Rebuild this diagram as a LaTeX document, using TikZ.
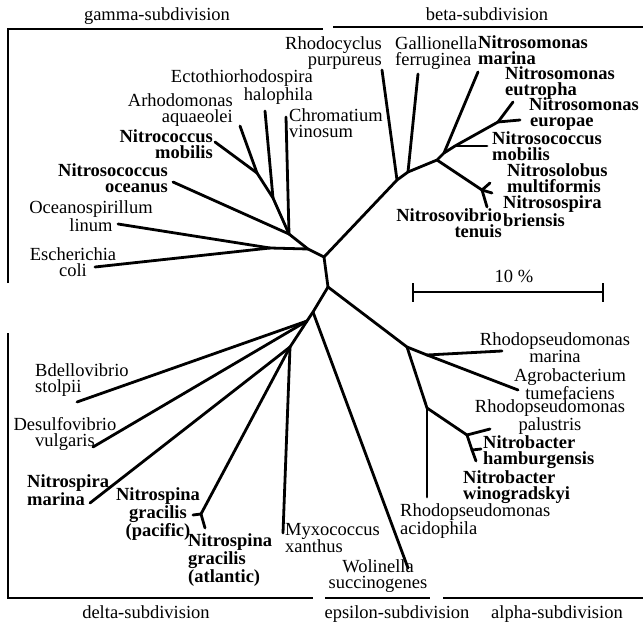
\documentclass[tikz,border=0pt]{standalone}
\usepackage{fontspec}
\setmainfont{Liberation Serif}
\begin{document}
\begin{tikzpicture}[x=1pt,y=-1pt,
  tr/.style={line width=2.8pt, line join=round, line cap=round},
  br/.style={line width=2.4pt, line join=miter},
  lab/.style={inner sep=0pt, font=\fontsize{18.5}{16}\selectfont},
  blab/.style={inner sep=0pt, font=\fontsize{18.5}{16}\selectfont\bfseries},
  sub/.style={inner sep=0pt, font=\fontsize{18.5}{16}\selectfont, anchor=base}]
\useasboundingbox (0,0) rectangle (643,623);

% ---------- brackets ----------
\coordinate (gA) at (8,283); \coordinate (gB) at (8,29); \coordinate (gC) at (323,29);
\coordinate (bA) at (333,27); \coordinate (bB) at (643,27);
\coordinate (dA) at (8,333); \coordinate (dB) at (8,598); \coordinate (dC) at (313,598);
\coordinate (eA) at (325,598); \coordinate (eB) at (430,598);
\coordinate (aA) at (443,598); \coordinate (aB) at (643,598);
\draw[br] (gA) -- (gB) -- (gC);
\draw[br] (bA) -- (bB);
\draw[br] (dA) -- (dB) -- (dC);
\draw[br] (eA) -- (eB);
\draw[br] (aA) -- (aB);

\node[sub] (gamma) at (157,21) {gamma-subdivision};
\node[sub] (beta) at (487,21) {beta-subdivision};
\node[sub] (delta) at (146,618) {delta-subdivision};
\node[sub] (epsilon) at (397,618) {epsilon-subdivision};
\node[sub] (alpha) at (557,618) {alpha-subdivision};

% ---------- scale bar ----------
\coordinate (sL) at (413,292); \coordinate (sR) at (603,292);
\coordinate (sLt) at (413,283); \coordinate (sLb) at (413,302);
\coordinate (sRt) at (603,283); \coordinate (sRb) at (603,302);
\draw[br] (sL) -- (sR);
\draw[br] (sLt) -- (sLb);
\draw[br] (sRt) -- (sRb);
\node[lab] (scale) at (514,276) {10 \%};

% ---------- internal nodes ----------
\coordinate (C1) at (324,257);
\coordinate (C2) at (328,287);
% gamma
\coordinate (G1) at (308,249);
\coordinate (EcN) at (270,248);
\coordinate (G2) at (289,234);
\coordinate (G3) at (273,198);
\coordinate (G4) at (257,173);
% beta
\coordinate (B1) at (397,180);
\coordinate (B2) at (408,172);
\coordinate (B3) at (437,160);
\coordinate (B4) at (444,153);
\coordinate (B5) at (482,190);
\coordinate (B6) at (455,146);
\coordinate (B7) at (498,122);
% delta / epsilon
\coordinate (E1) at (313,312);
\coordinate (D1) at (307,321);
\coordinate (D2) at (290,347);
\coordinate (NG) at (201,514);
% alpha
\coordinate (A1) at (407,347);
\coordinate (A2) at (427,355);
\coordinate (A3) at (427,408);
\coordinate (A4) at (467,435);
\coordinate (A5) at (472,450);

% ---------- leaf ends ----------
\coordinate (lEcoli) at (95,267);
\coordinate (lOcean) at (118,224);
\coordinate (lChrom) at (286,117);
\coordinate (lOceanus) at (173,182);
\coordinate (lEcto) at (265,111);
\coordinate (lArho) at (240,126);
\coordinate (lNcoc) at (215,142);
\coordinate (lRhodoc) at (382,70);
\coordinate (lGall) at (418,74);
\coordinate (lNmar) at (478,72);
\coordinate (lNmob) at (487,146);
\coordinate (lEut) at (513,102);
\coordinate (lEur) at (520,120);
\coordinate (lNlob) at (490,183);
\coordinate (lNspi) at (492,193);
\coordinate (lNvib) at (487,207);
\coordinate (lWol) at (408,568);
\coordinate (lBdel) at (77,402);
\coordinate (lDesu) at (93,447);
\coordinate (lNspm) at (90,503);
\coordinate (lMyxo) at (283,533);
\coordinate (lNGp) at (193,515);
\coordinate (lNGa) at (205,528);
\coordinate (lRmar) at (502,351);
\coordinate (lAgro) at (518,390);
\coordinate (lRaci) at (427,497);
\coordinate (lRpal) at (490,429);
\coordinate (lNham) at (481,449);
\coordinate (lNwin) at (476,461);

% ---------- tree edges ----------
\draw[tr] (C1) -- (C2);
% gamma
\draw[tr] (C1) -- (G1) -- (G2) -- (G3) -- (G4);
\draw[tr] (G1) -- (EcN);
\draw[tr] (EcN) -- (lEcoli);
\draw[tr] (EcN) -- (lOcean);
\draw[tr] (G2) -- (lChrom);
\draw[tr] (G2) -- (lOceanus);
\draw[tr] (G3) -- (lEcto);
\draw[tr] (G4) -- (lArho);
\draw[tr] (G4) -- (lNcoc);
% beta
\draw[tr] (C1) -- (B1) -- (B2) -- (B3) -- (B4) -- (B6) -- (B7);
\draw[tr] (B1) -- (lRhodoc);
\draw[tr] (B2) -- (lGall);
\draw[tr] (B3) -- (B5);
\draw[tr] (B5) -- (lNlob);
\draw[tr] (B5) -- (lNspi);
\draw[tr] (B5) -- (lNvib);
\draw[tr] (B4) -- (lNmar);
\draw[tr] (B6) -- (lNmob);
\draw[tr] (B7) -- (lEut);
\draw[tr] (B7) -- (lEur);
% delta / epsilon
\draw[tr] (C2) -- (E1) -- (D1) -- (D2);
\draw[tr] (E1) -- (lWol);
\draw[tr] (D1) -- (lBdel);
\draw[tr] (D1) -- (lDesu);
\draw[tr] (D2) -- (lNspm);
\draw[tr] (D2) -- (lMyxo);
\draw[tr] (D2) -- (NG);
\draw[tr] (NG) -- (lNGp);
\draw[tr] (NG) -- (lNGa);
% alpha
\draw[tr] (C2) -- (A1) -- (A2);
\draw[tr] (A2) -- (lRmar);
\draw[tr] (A2) -- (lAgro);
\draw[tr] (A1) -- (A3) -- (A4) -- (A5);
\draw[tr] (A3) -- (lRaci);
\draw[tr] (A4) -- (lRpal);
\draw[tr] (A5) -- (lNham);
\draw[tr] (A5) -- (lNwin);

% ---------- labels ----------
% gamma
\node[lab, anchor=east, align=right] (tRhodoc) at (382,53) {Rhodocyclus\\purpureus};
\node[lab, anchor=east, align=right] (tEcto) at (313,87) {Ectothiorhodospira\\halophila};
\node[lab, anchor=east, align=right] (tArho) at (233,110) {Arhodomonas\\aquaeolei};
\node[blab, anchor=east, align=right] (tNcoc) at (213,144) {Nitrococcus\\mobilis};
\node[blab, anchor=east, align=right] (tOceanus) at (168,178) {Nitrosococcus\\oceanus};
\node[lab, align=center] (tOcean) at (91,216) {Oceanospirillum\\linum};
\node[lab, align=center] (tEcoli) at (73,262) {Escherichia\\coli};
\node[lab, anchor=west, align=left] (tChrom) at (289,123) {Chromatium\\vinosum};
% beta
\node[lab, anchor=west, align=left] (tGall) at (395,53) {Gallionella\\ferruginea};
\node[blab, anchor=west, align=left] (tNmar) at (478,50) {Nitrosomonas\\marina};
\node[blab, anchor=west, align=left] (tEut) at (505,83) {Nitrosomonas\\eutropha};
\node[blab, anchor=west, align=left] (tEur) at (529,114) {Nitrosomonas\\\hspace{1pt}europae};
\node[blab, anchor=west, align=left] (tNmob) at (492,146) {Nitrosococcus\\mobilis};
\node[blab, anchor=west, align=left] (tNlob) at (507,178) {Nitrosolobus\\multiformis};
\node[blab, anchor=west, align=left] (tNspi) at (503,211) {Nitrosospira\\briensis};
\node[blab, anchor=east, align=right] (tNvib) at (502,223) {Nitrosovibrio\\tenuis};
% delta / epsilon
\node[lab, anchor=west, align=left] (tBdel) at (35,380) {Bdellovibrio\\stolpii};
\node[lab, align=center] (tDesu) at (65,434) {Desulfovibrio\\vulgaris};
\node[blab, anchor=west, align=left] (tNspm) at (27,490) {Nitrospira\\marina};
\node[blab, align=center] (tNGp) at (158,514) {Nitrospina\\gracilis\\(pacific)};
\node[blab, anchor=west, align=left] (tNGa) at (188,560) {Nitrospina\\gracilis\\(atlantic)};
\node[lab, anchor=west, align=left] (tMyxo) at (285,538) {Myxococcus\\xanthus};
\node[lab, align=center] (tWol) at (378,576) {Wolinella\\succinogenes};
% alpha
\node[lab, align=center] (tRmar) at (555,348) {Rhodopseudomonas\\marina};
\node[lab, align=center] (tAgro) at (570,384) {Agrobacterium\\tumefaciens};
\node[lab, align=center] (tRpal) at (550,417) {Rhodopseudomonas\\palustris};
\node[blab, anchor=west, align=left] (tNham) at (483,452) {Nitrobacter\\hamburgensis};
\node[blab, anchor=west, align=left] (tNwin) at (463,487) {Nitrobacter\\winogradskyi};
\node[lab, anchor=west, align=left] (tRaci) at (400,521) {Rhodopseudomonas\\acidophila};
\end{tikzpicture}
\end{document}
